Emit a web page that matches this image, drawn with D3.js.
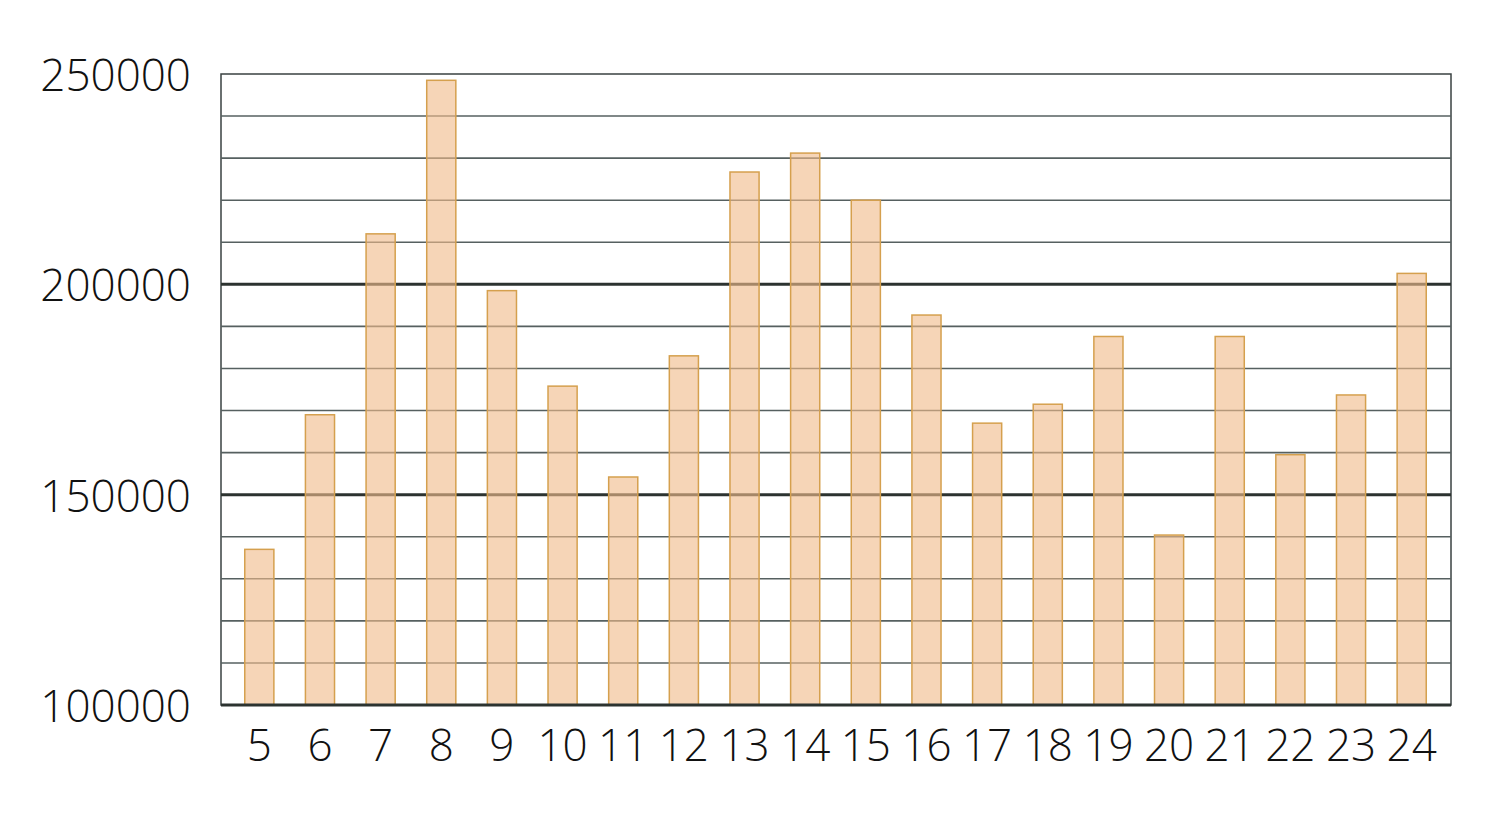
<!DOCTYPE html>
<html>
<head>
<meta charset="utf-8">
<script src="https://cdn.jsdelivr.net/npm/d3@7"></script>
<style>
  html, body { margin: 0; padding: 0; background: #fff; }
  svg { display: block; }
  text { font-family: "Open Sans", "Noto Sans", sans-serif; font-weight: 300; fill: #111; }
</style>
</head>
<body>
<svg id="chart" width="1500" height="820"></svg>
<script>
const categories = ["5","6","7","8","9","10","11","12","13","14","15","16","17","18","19","20","21","22","23","24"];
const values = [137000, 169000, 212000, 248500, 198500, 175800, 154200, 183000, 226700, 231200, 220000, 192700, 167000, 171500, 187600, 140400, 187600, 159500, 173700, 202600];
const yTickLabels = [100000, 150000, 200000, 250000];
const minorTicks = [110000,120000,130000,140000,160000,170000,180000,190000,210000,220000,230000,240000];

const svg = d3.select("#chart");
const plotLeft = 221, plotRight = 1451, plotTop = 74, plotBottom = 705;

const y = d3.scaleLinear().domain([100000, 250000]).range([plotBottom, plotTop]);
const x = d3.scaleBand().domain(categories).range([229, 1442]).paddingInner(0.52).paddingOuter(0.26);

// frame
svg.append("rect").attr("x", plotLeft).attr("y", plotTop).attr("width", plotRight - plotLeft).attr("height", plotBottom - plotTop)
  .attr("fill", "none").attr("stroke", "#3a4242").attr("stroke-width", 1.5);

// minor grid
svg.append("g").selectAll("line").data(minorTicks).join("line")
  .attr("x1", plotLeft).attr("x2", plotRight).attr("y1", d => y(d)).attr("y2", d => y(d))
  .attr("stroke", "#566060").attr("stroke-width", 1.6);

// major grid
svg.append("g").selectAll("line").data([150000, 200000]).join("line")
  .attr("x1", plotLeft).attr("x2", plotRight).attr("y1", d => y(d)).attr("y2", d => y(d))
  .attr("stroke", "#2c3330").attr("stroke-width", 3);

// bars
svg.append("g").selectAll("rect").data(values).join("rect")
  .attr("x", (d, i) => x(categories[i]))
  .attr("width", x.bandwidth())
  .attr("y", d => y(d))
  .attr("height", d => y(100000) - y(d))
  .attr("fill", "rgba(240,188,138,0.62)")
  .attr("stroke", "#d5a04e").attr("stroke-width", 1.5);

// bottom axis line
svg.append("line").attr("x1", plotLeft).attr("x2", plotRight).attr("y1", plotBottom).attr("y2", plotBottom)
  .attr("stroke", "#2c3330").attr("stroke-width", 3);

// y labels
svg.append("g").selectAll("text").data(yTickLabels).join("text")
  .attr("x", 191).attr("y", d => y(d)).attr("text-anchor", "end").attr("dominant-baseline", "central")
  .attr("font-size", 44).text(d => d);

// x labels
svg.append("g").selectAll("text").data(categories).join("text")
  .attr("x", d => x(d) + x.bandwidth() / 2).attr("y", 744)
  .attr("text-anchor", "middle").attr("dominant-baseline", "central")
  .attr("font-size", 44).text(d => d);
</script>
</body>
</html>
